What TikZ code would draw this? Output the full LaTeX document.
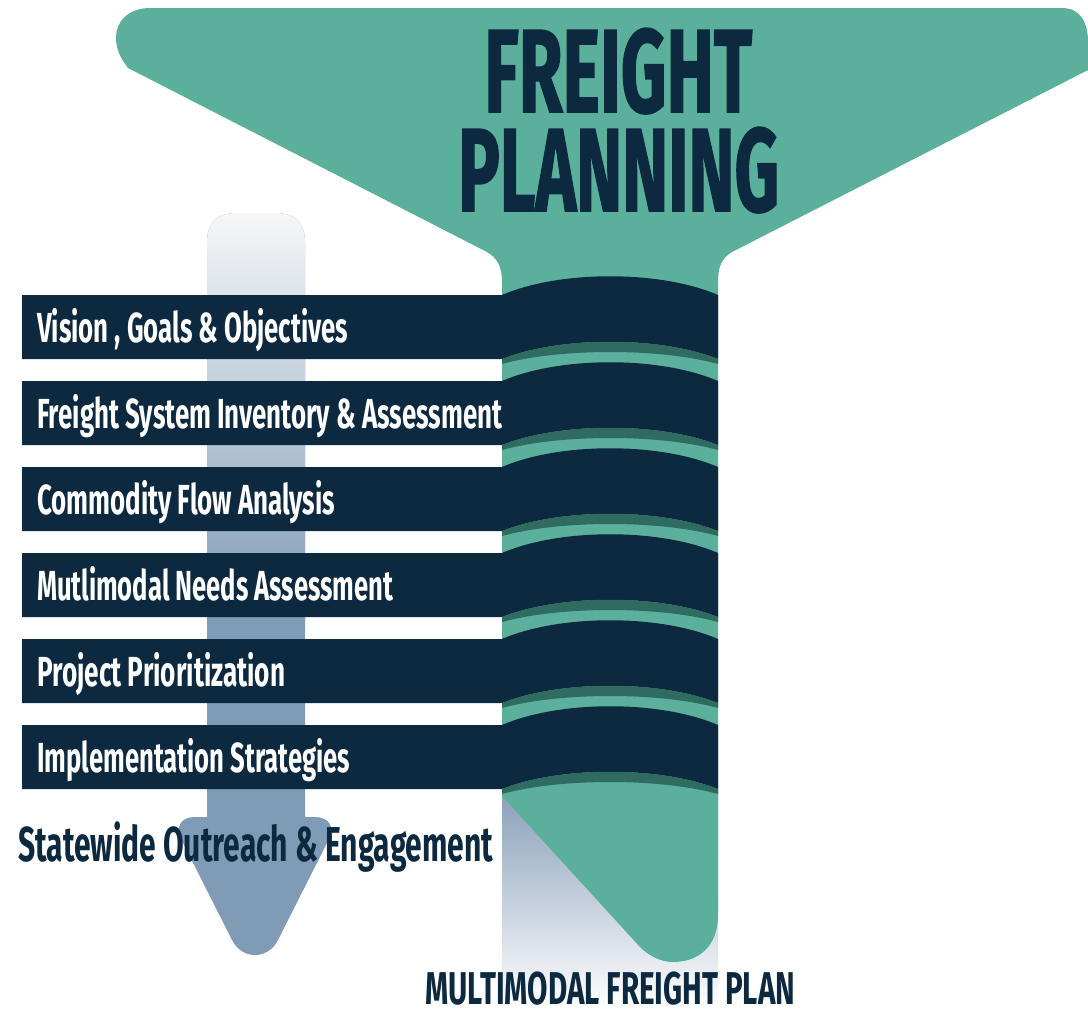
\documentclass[tikz,border=0pt]{standalone}
\usepackage{fontspec}
\setmainfont{Fira Sans}
\newfontfamily\heavyfont{Fira Sans}[FakeBold=1.6]
\usepackage{graphicx}
\definecolor{fgreen}{HTML}{5AB09B}
\definecolor{fnavy}{HTML}{0C2940}
\definecolor{fshadow}{HTML}{306B5F}
\definecolor{fsteel}{HTML}{7F9BB5}
\definecolor{fpale}{HTML}{F5F6F8}
\definecolor{fgrad}{HTML}{889FB9}
\newcommand{\fitw}[3]{\resizebox{#1pt}{\height}{\fontsize{#2}{#2}\selectfont\bfseries #3}}
\newcommand{\fitheavy}[3]{\resizebox{#1pt}{\height}{\heavyfont\fontsize{#2}{#2}\selectfont\bfseries #3}}
\begin{document}
\begin{tikzpicture}[x=1pt,y=-1pt,
  txt/.style={inner sep=0pt, anchor=base west},
  bandtxt/.style={txt, text=white},
  darktxt/.style={txt, text=fnavy}]
\useasboundingbox (0,0) rectangle (1088,1009);
% gradient under the stem bottom
\shade[top color=fgrad, bottom color=white] (502,790) rectangle (718,1009);
% arrow
\fill[fsteel] (207,817) -- (195,817) .. controls (181,817) and (175,827) .. (181,839)
  -- (232,940) .. controls (242,960) and (268,960) .. (278,940)
  -- (329,839) .. controls (335,827) and (329,817) .. (315,817)
  -- (305,817) -- (305,243) .. controls (305,222) and (295,213) .. (275,213)
  -- (237,213) .. controls (217,213) and (207,222) .. (207,243) -- cycle;
\shade[top color=fpale, bottom color=fsteel] (207,620) -- (207,243) .. controls (207,222) and (217,213) .. (237,213)
  -- (275,213) .. controls (295,213) and (305,222) .. (305,243) -- (305,620) -- cycle;
% funnel
\fill[fgreen] (150,8) -- (1062,8) .. controls (1080,8) and (1088,22) .. (1088,42) -- (1088,70)
  -- (732,252) .. controls (722,258) and (718,266) .. (718,282) -- (718,915)
  .. controls (718,945) and (700,962) .. (673,962) .. controls (660,962) and (648,955) .. (640,947)
  -- (502,796) -- (502,282) .. controls (502,266) and (497,258) .. (487,252)
  -- (128,68) .. controls (120,58) and (116,48) .. (116,38) .. controls (116,20) and (130,8) .. (150,8) -- cycle;
% bands
\foreach \k in {0,...,5}{
  \pgfmathsetmacro{\T}{295+86*\k}
  \pgfmathsetmacro{\B}{\T+64}
  \fill[fnavy] (22,\T) -- (502,\T) .. controls (560,\T-25) and (660,\T-25) .. (718,\T)
    -- (718,\B) .. controls (660,\B-23) and (560,\B-23) .. (502,\B) -- (22,\B) -- cycle;
  \fill[fshadow] (502,\B) .. controls (560,\B-23) and (660,\B-23) .. (718,\B)
    -- (718,\B+5) .. controls (660,\B-11) and (560,\B-11) .. (502,\B+5) -- cycle;
}
% texts
\node[darktxt] (title1) at (484,112) {\fitheavy{268}{118}{FREIGHT}};
\node[darktxt] (title2) at (458,211) {\fitheavy{321}{118}{PLANNING}};
\node[bandtxt] (s1) at (37,342) {\fitw{311}{42}{Vision , Goals \& Objectives}};
\node[bandtxt] (s2) at (37,428) {\fitw{465}{42}{Freight System Inventory \& Assessment}};
\node[bandtxt] (s3) at (37,514) {\fitw{298}{42}{Commodity Flow Analysis}};
\node[bandtxt] (s4) at (37,600) {\fitw{356}{42}{Mutlimodal Needs Assessment}};
\node[bandtxt] (s5) at (37,686) {\fitw{248}{42}{Project Prioritization}};
\node[bandtxt] (s6) at (37,772) {\fitw{313}{42}{Implementation Strategies}};
\node[darktxt] (outreach) at (18,861) {\fitw{475}{49}{Statewide Outreach \& Engagement}};
\node[darktxt] (plan) at (425,1004) {\fitw{370}{46}{MULTIMODAL FREIGHT PLAN}};
\end{tikzpicture}
\end{document}
